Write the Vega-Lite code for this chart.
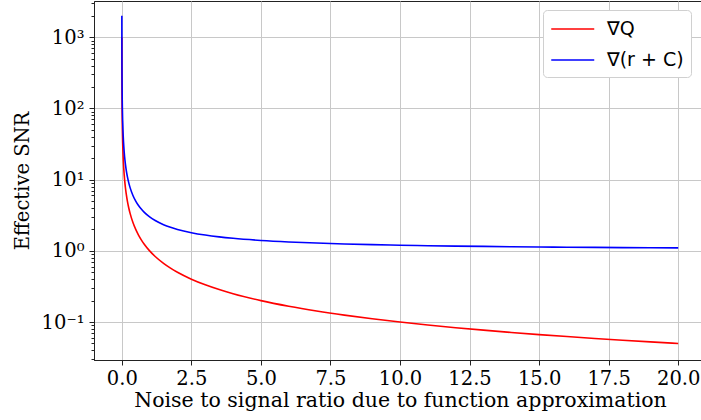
{
  "$schema": "https://vega.github.io/schema/vega-lite/v6.json",
  "autosize": "none",
  "width": 612,
  "height": 359,
  "padding": {"left": 94, "top": 1, "right": 0, "bottom": 60},
  "background": "white",
  "config": {
    "view": {"stroke": "#222", "strokeWidth": 1},
    "axis": {"labelFont": "DejaVu Serif", "titleFont": "DejaVu Serif", "labelFontSize": 19.5, "titleFontSize": 20.5, "labelColor": "black", "titleColor": "black", "titleFontWeight": "normal", "domainColor": "#222", "tickColor": "#222", "gridColor": "#c8c8c8", "gridWidth": 1}
  },
  "data": {"values": [
    {"x": 0.001, "y": 1000, "s": "∇Q"}, {"x": 0.0015, "y": 666.67, "s": "∇Q"}, {"x": 0.002, "y": 500, "s": "∇Q"}, {"x": 0.003, "y": 333.33, "s": "∇Q"},
    {"x": 0.005, "y": 200, "s": "∇Q"}, {"x": 0.0075, "y": 133.33, "s": "∇Q"}, {"x": 0.01, "y": 100, "s": "∇Q"}, {"x": 0.015, "y": 66.667, "s": "∇Q"},
    {"x": 0.02, "y": 50, "s": "∇Q"}, {"x": 0.03, "y": 33.333, "s": "∇Q"}, {"x": 0.04, "y": 25, "s": "∇Q"}, {"x": 0.05, "y": 20, "s": "∇Q"},
    {"x": 0.07, "y": 14.286, "s": "∇Q"}, {"x": 0.1, "y": 10, "s": "∇Q"}, {"x": 0.13, "y": 7.6923, "s": "∇Q"}, {"x": 0.16, "y": 6.25, "s": "∇Q"},
    {"x": 0.2, "y": 5, "s": "∇Q"}, {"x": 0.25, "y": 4, "s": "∇Q"}, {"x": 0.3, "y": 3.3333, "s": "∇Q"}, {"x": 0.4, "y": 2.5, "s": "∇Q"},
    {"x": 0.5, "y": 2, "s": "∇Q"}, {"x": 0.6, "y": 1.6667, "s": "∇Q"}, {"x": 0.7, "y": 1.4286, "s": "∇Q"}, {"x": 0.8, "y": 1.25, "s": "∇Q"},
    {"x": 1.0, "y": 1, "s": "∇Q"}, {"x": 1.2, "y": 0.83333, "s": "∇Q"}, {"x": 1.5, "y": 0.66667, "s": "∇Q"}, {"x": 1.75, "y": 0.57143, "s": "∇Q"},
    {"x": 2.0, "y": 0.5, "s": "∇Q"}, {"x": 2.5, "y": 0.4, "s": "∇Q"}, {"x": 3, "y": 0.33333, "s": "∇Q"}, {"x": 3.5, "y": 0.28571, "s": "∇Q"},
    {"x": 4, "y": 0.25, "s": "∇Q"}, {"x": 5, "y": 0.2, "s": "∇Q"}, {"x": 6, "y": 0.16667, "s": "∇Q"}, {"x": 7, "y": 0.14286, "s": "∇Q"},
    {"x": 8, "y": 0.125, "s": "∇Q"}, {"x": 9, "y": 0.11111, "s": "∇Q"}, {"x": 10, "y": 0.1, "s": "∇Q"}, {"x": 11, "y": 0.090909, "s": "∇Q"},
    {"x": 12, "y": 0.083333, "s": "∇Q"}, {"x": 13, "y": 0.076923, "s": "∇Q"}, {"x": 14, "y": 0.071429, "s": "∇Q"}, {"x": 15, "y": 0.066667, "s": "∇Q"},
    {"x": 16, "y": 0.0625, "s": "∇Q"}, {"x": 17, "y": 0.058824, "s": "∇Q"}, {"x": 18, "y": 0.055556, "s": "∇Q"}, {"x": 19, "y": 0.052632, "s": "∇Q"},
    {"x": 20, "y": 0.05, "s": "∇Q"},
    {"x": 0.001, "y": 2001, "s": "∇(r + C)"}, {"x": 0.0015, "y": 1334.33, "s": "∇(r + C)"}, {"x": 0.002, "y": 1001, "s": "∇(r + C)"}, {"x": 0.003, "y": 667.67, "s": "∇(r + C)"},
    {"x": 0.005, "y": 401, "s": "∇(r + C)"}, {"x": 0.0075, "y": 267.67, "s": "∇(r + C)"}, {"x": 0.01, "y": 201, "s": "∇(r + C)"}, {"x": 0.015, "y": 134.33, "s": "∇(r + C)"},
    {"x": 0.02, "y": 101, "s": "∇(r + C)"}, {"x": 0.03, "y": 67.667, "s": "∇(r + C)"}, {"x": 0.04, "y": 51, "s": "∇(r + C)"}, {"x": 0.05, "y": 41, "s": "∇(r + C)"},
    {"x": 0.07, "y": 29.571, "s": "∇(r + C)"}, {"x": 0.1, "y": 21, "s": "∇(r + C)"}, {"x": 0.13, "y": 16.385, "s": "∇(r + C)"}, {"x": 0.16, "y": 13.5, "s": "∇(r + C)"},
    {"x": 0.2, "y": 11, "s": "∇(r + C)"}, {"x": 0.25, "y": 9, "s": "∇(r + C)"}, {"x": 0.3, "y": 7.6667, "s": "∇(r + C)"}, {"x": 0.4, "y": 6, "s": "∇(r + C)"},
    {"x": 0.5, "y": 5, "s": "∇(r + C)"}, {"x": 0.6, "y": 4.3333, "s": "∇(r + C)"}, {"x": 0.7, "y": 3.8571, "s": "∇(r + C)"}, {"x": 0.8, "y": 3.5, "s": "∇(r + C)"},
    {"x": 1.0, "y": 3, "s": "∇(r + C)"}, {"x": 1.2, "y": 2.6667, "s": "∇(r + C)"}, {"x": 1.5, "y": 2.3333, "s": "∇(r + C)"}, {"x": 1.75, "y": 2.1429, "s": "∇(r + C)"},
    {"x": 2.0, "y": 2, "s": "∇(r + C)"}, {"x": 2.5, "y": 1.8, "s": "∇(r + C)"}, {"x": 3, "y": 1.6667, "s": "∇(r + C)"}, {"x": 3.5, "y": 1.5714, "s": "∇(r + C)"},
    {"x": 4, "y": 1.5, "s": "∇(r + C)"}, {"x": 5, "y": 1.4, "s": "∇(r + C)"}, {"x": 6, "y": 1.3333, "s": "∇(r + C)"}, {"x": 7, "y": 1.2857, "s": "∇(r + C)"},
    {"x": 8, "y": 1.25, "s": "∇(r + C)"}, {"x": 9, "y": 1.2222, "s": "∇(r + C)"}, {"x": 10, "y": 1.2, "s": "∇(r + C)"}, {"x": 11, "y": 1.1818, "s": "∇(r + C)"},
    {"x": 12, "y": 1.1667, "s": "∇(r + C)"}, {"x": 13, "y": 1.1538, "s": "∇(r + C)"}, {"x": 14, "y": 1.1429, "s": "∇(r + C)"}, {"x": 15, "y": 1.1333, "s": "∇(r + C)"},
    {"x": 16, "y": 1.125, "s": "∇(r + C)"}, {"x": 17, "y": 1.1176, "s": "∇(r + C)"}, {"x": 18, "y": 1.1111, "s": "∇(r + C)"}, {"x": 19, "y": 1.1053, "s": "∇(r + C)"},
    {"x": 20, "y": 1.1, "s": "∇(r + C)"}
  ]},
  "layer": [
    {
      "mark": {"type": "line", "strokeWidth": 1.6, "interpolate": "monotone"},
      "encoding": {
        "x": {"field": "x", "type": "quantitative", "scale": {"domain": [-1, 21], "nice": false, "zero": false},
          "axis": {"title": "Noise to signal ratio due to function approximation", "values": [0, 2.5, 5, 7.5, 10, 12.5, 15, 17.5, 20], "format": ".1f", "grid": true, "tickSize": 5, "labelPadding": 4, "titlePadding": 3, "labelFlush": false}},
        "y": {"field": "y", "type": "quantitative", "scale": {"type": "log", "domain": [0.0293, 3230], "nice": false},
          "axis": {"title": "Effective SNR", "orient": "left", "values": [0.1, 1, 10, 100, 1000], "grid": true, "tickSize": 5, "labelPadding": 5, "titlePadding": 9, "titleFontSize": 19.5,
            "labelExpr": "datum.value >= 999 ? '10³' : datum.value >= 99 ? '10²' : datum.value >= 9 ? '10¹' : datum.value >= 0.9 ? '10⁰' : '10⁻¹'"}},
        "color": {"field": "s", "type": "nominal", "sort": ["∇Q", "∇(r + C)"],
          "scale": {"domain": ["∇Q", "∇(r + C)"], "range": ["#ff0000", "#0000ff"]},
          "legend": {"title": null, "orient": "none", "legendX": 449, "legendY": 9, "symbolType": "M-1,0H3", "symbolSize": 462, "symbolStrokeWidth": 1.6,
            "labelFont": "DejaVu Sans", "labelFontSize": 19, "labelColor": "black", "rowPadding": 9, "padding": 7, "strokeColor": "#d0d0d0", "fillColor": "white", "cornerRadius": 4, "labelOffset": 33}}
      }
    },
    {
      "mark": {"type": "line", "strokeOpacity": 0},
      "encoding": {
        "x": {"field": "x", "type": "quantitative"},
        "y": {"field": "y", "type": "quantitative",
          "axis": {"title": null, "orient": "left", "labels": false, "grid": false, "domain": false, "tickSize": 3,
            "values": [0.03, 0.04, 0.05, 0.06, 0.07, 0.08, 0.09, 0.2, 0.3, 0.4, 0.5, 0.6, 0.7, 0.8, 0.9, 2, 3, 4, 5, 6, 7, 8, 9, 20, 30, 40, 50, 60, 70, 80, 90, 200, 300, 400, 500, 600, 700, 800, 900, 2000, 3000]}},
        "detail": {"field": "s"}
      }
    }
  ],
  "resolve": {"axis": {"y": "independent"}}
}
